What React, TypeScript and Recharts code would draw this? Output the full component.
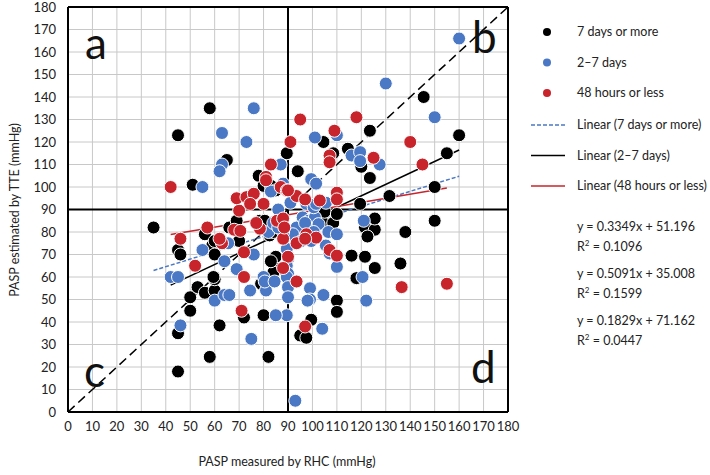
import React from "react";
import {
  ScatterChart,
  Scatter,
  XAxis,
  YAxis,
  CartesianGrid,
  ReferenceLine,
} from "recharts";

// points: [PASP by RHC, PASP by TTE]
const sevenDaysOrMore: [number, number][] = [
  [35, 82], [45, 123], [58, 135], [45, 72], [46, 70], [45, 35], [45, 18], [50, 45],
  [50, 51], [53, 55.5], [56, 53], [60, 54], [60, 59], [62, 38.5], [58, 24.5], [59.5, 60],
  [59, 74], [60, 70], [56, 79], [60, 76], [70, 76], [66, 82], [69, 85], [65, 112],
  [51, 101], [72, 42], [81, 58.5], [80, 43], [82, 24.5], [85, 69], [86, 63.5], [84, 62],
  [83, 67], [79, 57], [78, 105], [80, 100.5], [83, 100.5], [85, 98.5], [89.5, 115], [94, 107],
  [78.5, 85], [80.5, 85], [82.5, 78.5], [84, 80], [104.5, 84], [108.5, 84], [105, 89], [110, 88],
  [104.5, 120], [108.5, 115], [114.5, 117], [120, 109], [123.5, 104], [123.5, 125], [119.5, 92.5],
  [131.5, 96], [121.5, 82], [125.5, 81], [122.5, 78], [125.5, 86], [138, 80], [116, 69.5],
  [121.5, 69], [125.5, 64], [136, 66], [118, 59.5], [110, 49.5], [110, 44.5], [99.5, 41],
  [95, 34], [97.5, 33], [145.5, 140], [160, 123], [155, 115], [150, 100], [150, 85],
];

const twoToSevenDays: [number, number][] = [
  [76, 135], [63, 124], [73, 120], [63, 110], [62, 107], [55, 100], [55, 72], [65.5, 75],
  [64, 67], [42, 60], [45, 60], [46, 38.5], [60, 49.5], [64, 52], [66, 52], [74.5, 54],
  [75, 32.5], [80, 60], [81, 54], [80.5, 58], [84.5, 58], [76, 70], [69, 63.5], [90, 68],
  [89.5, 65], [90, 61.5], [89.5, 60], [90, 55.5], [90, 51], [89.5, 43], [85, 43], [89.5, 72.5],
  [87, 110], [83, 98], [88, 101.5], [91, 93], [86, 90], [93.5, 82], [92, 79], [88, 80],
  [82, 80], [84, 84], [86, 82], [96, 86.5], [98.5, 85], [101, 86.5], [97, 84], [102.5, 83.5],
  [100.5, 80], [106.5, 80], [110, 79], [95.5, 76], [99.5, 76], [105.5, 74], [107, 70.5],
  [110, 64.5], [99, 55], [99, 50], [104.5, 52], [98, 49.5], [104, 37], [93, 5], [122, 49.5],
  [120.5, 60], [121, 85], [99.5, 103.5], [101.5, 101.5], [97.5, 92.5], [100.5, 91],
  [101.5, 92.5], [105.5, 93], [101, 122], [110, 123], [116, 114], [119.5, 115.5],
  [119.5, 111.5], [127.5, 110], [130, 146], [150, 131], [160, 166],
];

const fortyEightHoursOrLess: [number, number][] = [
  [42, 100], [46, 77], [52, 65], [63, 75], [62, 77], [57, 82], [68, 81], [70, 89.5],
  [69, 95], [73, 95.5], [76, 97], [74.5, 92.5], [80, 92.5], [81, 104.5], [81, 103], [83, 110],
  [87, 100], [89.5, 98.5], [91, 120], [72, 71], [72, 60], [71, 45], [85.5, 85], [88, 86],
  [88, 77], [78.5, 81.5], [77, 84], [70.5, 80.5], [90, 69], [88, 64], [93.5, 58], [93.5, 75],
  [93.5, 96], [97, 94.5], [103, 94], [110, 97.5], [110, 94.5], [88.5, 82], [97.5, 79],
  [101.5, 77.5], [97, 77], [107, 72], [110, 69.5], [97, 38], [95, 130], [118, 131], [109, 125],
  [107, 114], [107, 111], [125, 113], [145, 110], [140, 120], [136.5, 55.5], [155, 57], [90, 98.5],
];

// trend lines: slope, intercept, x range
const trendNames = ["Linear (7 days or more)", "Linear (2–7 days)", "Linear (48 hours or less)"];
const trendSlopes = [0.3349, 0.5091, 0.1829];
const trendIntercepts = [51.196, 35.008, 71.162];
const trendStart = [35, 42, 42];
const trendEnd = [160, 160, 155];
const trendR2 = ["0.1096", "0.1599", "0.0447"];

const ticks = [0, 10, 20, 30, 40, 50, 60, 70, 80, 90, 100, 110, 120, 130, 140, 150, 160, 170, 180];

const BLACK = "#000000";
const BLUE = "#4a78c4";
const RED = "#c8242c";
const trendColors = [BLUE, BLACK, RED];
const trendDash = ["4 2", undefined, undefined];

const toPoints = (arr: [number, number][]) => arr.map(([x, y]) => ({ x, y }));

const dot = (color: string) => (p: any) => (
  <circle cx={p.cx} cy={p.cy} r={6.5} fill={color} stroke="#fff" strokeWidth={1} />
);

const FONT = "Lato, 'Open Sans', sans-serif";
const textColor = "#222";
const FS = 12.5;

const App: React.FC = () => {
  const tickStyle = { fontSize: 13, fill: textColor, fontFamily: FONT };
  const letter: React.CSSProperties = {
    position: "absolute",
    fontSize: 44,
    fontFamily: FONT,
    color: "#111",
    lineHeight: 1,
  };
  const legendText: React.CSSProperties = {
    position: "absolute",
    left: 577,
    fontSize: FS,
    fontFamily: FONT,
    color: textColor,
    lineHeight: "16px",
    whiteSpace: "nowrap",
  };
  const seriesLegend = [
    { name: "7 days or more", color: BLACK },
    { name: "2–7 days", color: BLUE },
    { name: "48 hours or less", color: RED },
  ];

  return (
    <div style={{ position: "absolute", left: 0, top: 0, width: 710, height: 475, background: "#fff" }}>
      <ScatterChart width={710} height={475} margin={{ top: 7, right: 202, bottom: 33, left: 28 }}>
        <CartesianGrid stroke="#c8c8c8" strokeWidth={1} />
        <XAxis
          type="number"
          dataKey="x"
          domain={[0, 180]}
          ticks={ticks}
          interval={0}
          height={30}
          tickLine={false}
          axisLine={{ stroke: BLACK, strokeWidth: 2 }}
          tick={tickStyle}
          tickMargin={4}
        />
        <YAxis
          type="number"
          dataKey="y"
          domain={[0, 180]}
          ticks={ticks}
          interval={0}
          width={40}
          tickLine={false}
          axisLine={{ stroke: BLACK, strokeWidth: 2 }}
          tick={tickStyle}
          tickMargin={6}
        />
        <ReferenceLine y={180} stroke={BLACK} strokeWidth={2} />
        <ReferenceLine x={180} stroke={BLACK} strokeWidth={2} />
        <Scatter data={toPoints(sevenDaysOrMore)} shape={dot(BLACK)} isAnimationActive={false} />
        <Scatter data={toPoints(twoToSevenDays)} shape={dot(BLUE)} isAnimationActive={false} />
        <Scatter data={toPoints(fortyEightHoursOrLess)} shape={dot(RED)} isAnimationActive={false} />
        <ReferenceLine x={90} stroke={BLACK} strokeWidth={2} />
        <ReferenceLine y={90} stroke={BLACK} strokeWidth={2} />
        <ReferenceLine
          segment={[{ x: 0, y: 0 }, { x: 180, y: 180 }]}
          stroke={BLACK}
          strokeWidth={1.5}
          strokeDasharray="9 5"
        />
        {trendSlopes.map((m, i) => (
          <ReferenceLine
            key={trendNames[i]}
            segment={[
              { x: trendStart[i], y: m * trendStart[i] + trendIntercepts[i] },
              { x: trendEnd[i], y: m * trendEnd[i] + trendIntercepts[i] },
            ]}
            stroke={trendColors[i]}
            strokeWidth={1.5}
            strokeDasharray={trendDash[i]}
          />
        ))}
      </ScatterChart>

      {/* quadrant letters */}
      <div style={{ ...letter, left: 85, top: 20 }}>a</div>
      <div style={{ ...letter, left: 472, top: 14 }}>b</div>
      <div style={{ ...letter, left: 84, top: 348 }}>c</div>
      <div style={{ ...letter, left: 471, top: 344 }}>d</div>

      {/* axis titles */}
      <div
        style={{
          position: "absolute",
          left: 287,
          top: 454,
          transform: "translateX(-50%)",
          fontSize: FS,
          fontFamily: FONT,
          color: textColor,
          whiteSpace: "nowrap",
        }}
      >
        PASP measured by RHC (mmHg)
      </div>
      <div
        style={{
          position: "absolute",
          left: 14,
          top: 210,
          transform: "translate(-50%, -50%) rotate(-90deg)",
          fontSize: FS,
          fontFamily: FONT,
          color: textColor,
          whiteSpace: "nowrap",
        }}
      >
        PASP estimated by TTE (mmHg)
      </div>

      {/* legend */}
      <svg style={{ position: "absolute", left: 0, top: 0 }} width={710} height={200}>
        {seriesLegend.map((s, i) => (
          <circle key={s.name} cx={547} cy={32 + i * 30.5} r={4} fill={s.color} />
        ))}
        {trendNames.map((n, i) => (
          <line
            key={n}
            x1={531}
            x2={565}
            y1={125 + i * 30.5}
            y2={125 + i * 30.5}
            stroke={trendColors[i]}
            strokeWidth={1.5}
            strokeDasharray={trendDash[i]}
          />
        ))}
      </svg>
      {seriesLegend.map((s, i) => (
        <div key={s.name} style={{ ...legendText, top: 24 + i * 30.5 }}>
          {s.name}
        </div>
      ))}
      {trendNames.map((n, i) => (
        <div key={n} style={{ ...legendText, top: 117 + i * 30.5 }}>
          {n}
        </div>
      ))}
      {trendSlopes.map((m, i) => (
        <div key={`eq-${i}`} style={{ ...legendText, top: 219 + i * 47 }}>
          y = {m.toFixed(4)}x + {trendIntercepts[i].toFixed(3)}
          <br />
          R<sup style={{ fontSize: 8 }}>2</sup> = {trendR2[i]}
        </div>
      ))}
    </div>
  );
};

export default App;
